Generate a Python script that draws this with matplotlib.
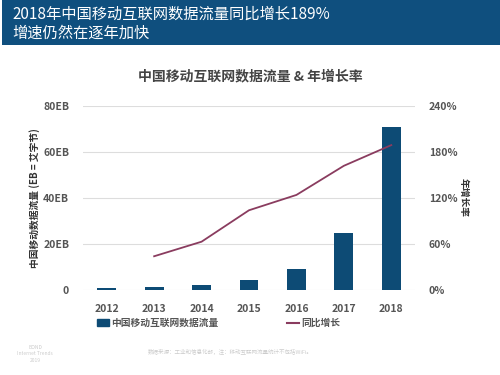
import numpy as np
import matplotlib.pyplot as plt
from matplotlib.patches import Rectangle
from matplotlib.lines import Line2D

plt.rcParams['font.family'] = ['Noto Sans CJK SC', 'DejaVu Sans']

# data
years = ['2012', '2013', '2014', '2015', '2016', '2017', '2018']
traffic_eb = [0.9, 1.4, 2.1, 4.2, 9.2, 24.6, 71.0]
growth_years = ['2013', '2014', '2015', '2016', '2017', '2018']
growth_pct = [44, 63, 104, 124, 162, 189]

bar_color = '#0d4b75'
line_color = '#8a3c5f'
grey = '#555555'

fig = plt.figure(figsize=(5, 3.75), dpi=100)

# header band
fig.patches.append(Rectangle((0.004, 0.88), 0.996, 0.12, transform=fig.transFigure,
                             facecolor='#0f4f7e', edgecolor='none'))
fig.text(0.024, 0.962, '2018年中国移动互联网数据流量同比增长189%', color='white',
         fontsize=11, va='center')
fig.text(0.024, 0.912, '增速仍然在逐年加快', color='white', fontsize=11, va='center')

fig.text(0.5, 0.795, '中国移动互联网数据流量 & 年增长率', ha='center', va='center',
         fontsize=10, fontweight='bold', color='#444444')

ax = fig.add_axes([0.166, 0.2267, 0.664, 0.4906])
x = np.arange(len(years))
ax.bar(x, traffic_eb, width=0.4, color=bar_color, zorder=3)
ax.set_xlim(-0.5, len(years) - 0.5)
ax.set_ylim(0, 80)
ax.set_yticks([0, 20, 40, 60, 80])
ax.set_yticklabels(['0', '20EB', '40EB', '60EB', '80EB'])
ax.set_xticks(x)
ax.set_xticklabels(years)
ax.grid(axis='y', color='#dddddd', linewidth=0.8, zorder=0)
for s in ax.spines.values():
    s.set_visible(False)
ax.tick_params(length=0, labelsize=7.5, labelcolor=grey, pad=10)
for t in ax.get_xticklabels() + ax.get_yticklabels():
    t.set_fontweight('bold')
ax.set_ylabel('中国移动数据流量 (EB = 艾字节)', fontsize=7, fontweight='bold',
              color='#333333', labelpad=2)

ax2 = ax.twinx()
gx = [years.index(y) for y in growth_years]
ax2.plot(gx, growth_pct, color=line_color, linewidth=1.3, zorder=4)
ax2.set_ylim(0, 240)
ax2.set_yticks([0, 60, 120, 180, 240])
ax2.set_yticklabels(['0%', '60%', '120%', '180%', '240%'])
for s in ax2.spines.values():
    s.set_visible(False)
ax2.tick_params(length=0, labelsize=7.5, labelcolor=grey, pad=10)
for t in ax2.get_yticklabels():
    t.set_fontweight('bold')
ax2.set_ylabel('年增长率', fontsize=7, fontweight='bold', color='#333333',
               rotation=270, labelpad=8)

handles = [Rectangle((0, 0), 1, 1, color=bar_color),
           Line2D([0], [0], color=line_color, linewidth=1.5)]
fig.legend(handles, ['中国移动互联网数据流量', '同比增长'], loc='center',
           bbox_to_anchor=(0.437, 0.138), ncol=2, frameon=False,
           columnspacing=7, handlelength=1.3, handletextpad=0.2,
           labelcolor=grey, prop={'weight': 'bold', 'size': 7})

# faint footer
fig.text(0.46, 0.055, '数据来源：工业和信息化部，注：移动互联网流量统计不包括WiFi。',
         ha='center', fontsize=4, color='#cccccc')
fig.text(0.07, 0.035, 'BOND\nInternet Trends\n2019', ha='center', fontsize=3.5,
         color='#cccccc', linespacing=1.4)

fig.savefig('out.png', dpi=100)
